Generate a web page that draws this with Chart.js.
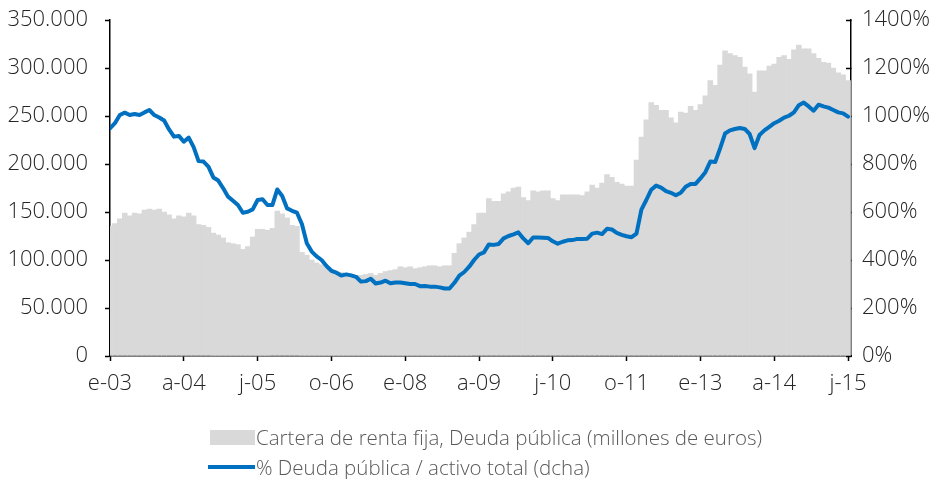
<!DOCTYPE html>
<html>
<head>
<meta charset="utf-8">
<script src="https://cdn.jsdelivr.net/npm/chart.js@4/dist/chart.umd.min.js"></script>
<style>
html,body{margin:0;padding:0;background:#fff;}
#wrap{position:relative;width:929px;height:479px;overflow:hidden;background:#fff;}
#c{position:absolute;left:0;top:0;}
.leg{position:absolute;left:256px;font-family:'Open Sans',sans-serif;font-weight:300;font-size:20.5px;line-height:24px;color:#595959;white-space:nowrap;}
.sw{position:absolute;}
</style>
</head>
<body>
<div id="wrap">
<canvas id="c" width="929" height="479"></canvas>
<div class="sw" id="sw1" style="left:210px;top:430px;width:45px;height:15px;background:#d9d9d9;"></div>
<div class="leg" id="leg1" style="top:425px;">Cartera de renta fija, Deuda pública (millones de euros)</div>
<div class="sw" id="sw2" style="left:208px;top:465px;width:47px;height:4px;background:#0070c0;"></div>
<div class="leg" id="leg2" style="top:455px;">% Deuda pública / activo total (dcha)</div>
</div>
<script>
// Month index 0 = enero 2003 ... 150 = julio 2015
const tickMonths = [0, 15, 30, 45, 60, 75, 90, 105, 120, 135, 150];
const tickLabels = ['e-03', 'a-04', 'j-05', 'o-06', 'e-08', 'a-09', 'j-10', 'o-11', 'e-13', 'a-14', 'j-15'];

// Cartera de renta fija, Deuda pública (millones de euros)
const carteraDeuda = [
  135000,138000,143000,149000,146000,149000,148000,152000,153000,152000,
  153000,150000,147000,143000,146000,145000,149000,146000,137000,136000,
  134000,128000,126000,123000,118000,117000,116000,111000,114000,124000,
  132000,132000,131000,133000,151000,148000,144000,136000,135000,108000,
  105000,100000,97000,95000,92000,90000,88000,87000,86000,85000,
  84000,84000,85000,86000,84000,86000,88000,89000,90000,93000,
  92000,93000,91000,92000,93000,94000,94000,93000,94000,94000,
  107000,117000,123000,129000,137000,149000,149000,164000,161000,161000,
  169000,171000,175000,176000,165000,162000,172000,171000,172000,172000,
  164000,162000,168000,168000,168000,168000,167000,171000,178000,175000,
  180000,189000,186000,181000,179000,177000,177000,204000,228000,246000,
  264000,261000,256000,256000,248000,243000,254000,253000,260000,256000,
  262000,271000,287000,282000,303000,318000,315000,313000,311000,301000,
  294000,275000,297000,297000,302000,304000,311000,313000,309000,319000,
  324000,320000,320000,315000,310000,306000,305000,300000,295000,293000,
  287000
];

// % Deuda pública / activo total (dcha)
const pctDeudaActivo = [
  949,970,1004,1014,1004,1008,1004,1015,1025,1004,
  994,981,944,914,917,893,910,870,812,810,
  789,744,731,699,664,647,629,597,601,611,
  650,653,629,629,694,667,615,605,597,550,
  470,435,415,400,375,355,347,335,340,336,
  330,310,312,322,302,306,314,303,306,306,
  303,300,300,291,292,289,289,286,281,281,
  305,335,350,372,400,423,432,465,463,467,
  490,500,507,515,490,470,494,494,493,492,
  478,468,476,482,483,488,488,489,510,514,
  508,530,527,513,505,499,495,510,610,650,
  693,710,702,687,680,670,680,705,717,717,
  740,766,810,808,865,927,940,946,950,946,
  925,866,921,940,955,970,980,993,1001,1015,
  1045,1056,1040,1022,1047,1040,1035,1025,1015,1011,
  997
];

const leftTicks = [0, 50000, 100000, 150000, 200000, 250000, 300000, 350000];
const rightTicks = [0, 200, 400, 600, 800, 1000, 1200, 1400];

function fmtMiles(v) {
  return String(v).replace(/\B(?=(\d{3})+(?!\d))/g, '.');
}

const tickFont = { family: "'Open Sans', sans-serif", size: 22, weight: '300' };
const tickColor = '#262626';

function fitVertical(width) {
  return s => { s.width = width; s.paddingTop = 0; s.paddingBottom = 0; };
}

new Chart(document.getElementById('c'), {
  type: 'bar',
  data: {
    datasets: [
      {
        type: 'line',
        label: '% Deuda pública / activo total (dcha)',
        data: pctDeudaActivo.map((v, i) => ({ x: i, y: v })),
        yAxisID: 'y2',
        borderColor: '#0070c0',
        backgroundColor: '#0070c0',
        borderWidth: 4,
        pointRadius: 0,
        tension: 0,
        borderJoinStyle: 'round',
        borderCapStyle: 'round',
        order: 1
      },
      {
        type: 'bar',
        label: 'Cartera de renta fija, Deuda pública (millones de euros)',
        data: carteraDeuda.map((v, i) => ({ x: i, y: v })),
        yAxisID: 'y',
        backgroundColor: '#d9d9d9',
        borderWidth: 0,
        barPercentage: 1,
        categoryPercentage: 1,
        order: 2
      }
    ]
  },
  options: {
    responsive: false,
    devicePixelRatio: 1,
    animation: false,
    layout: { padding: { top: 20, left: 0, right: 0, bottom: 83 } },
    plugins: { legend: { display: false }, tooltip: { enabled: false } },
    scales: {
      x: {
        type: 'linear',
        min: 0,
        max: 150.6,
        offset: false,
        afterFit: s => { s.height = 40; },
        afterBuildTicks: s => { s.ticks = tickMonths.map(v => ({ value: v })); },
        grid: { offset: false, drawOnChartArea: false, drawTicks: true, tickLength: 5, tickColor: '#000', tickWidth: 1.5 },
        border: { display: true, color: '#000', width: 1.5 },
        ticks: {
          autoSkip: false,
          maxRotation: 0,
          padding: 10,
          color: tickColor,
          font: tickFont,
          callback: v => { const k = tickMonths.indexOf(v); return k >= 0 ? tickLabels[k] : ''; }
        }
      },
      y: {
        position: 'left',
        min: 0,
        max: 350000,
        afterFit: fitVertical(110),
        afterBuildTicks: s => { s.ticks = leftTicks.map(v => ({ value: v })); },
        grid: { drawOnChartArea: false, drawTicks: true, tickLength: 5, tickColor: '#000', tickWidth: 1.5 },
        border: { display: true, color: '#000', width: 1.5 },
        ticks: { padding: 17, color: tickColor, font: tickFont, callback: v => fmtMiles(v) }
      },
      y2: {
        position: 'right',
        min: 0,
        max: 1400,
        afterFit: fitVertical(78),
        afterBuildTicks: s => { s.ticks = rightTicks.map(v => ({ value: v })); },
        grid: { drawOnChartArea: false, drawTicks: true, tickLength: -5, tickColor: '#000', tickWidth: 1.5 },
        border: { display: true, color: '#000', width: 1.5 },
        ticks: { padding: 16, color: tickColor, font: tickFont, callback: v => v + '%' }
      }
    }
  }
});
</script>
</body>
</html>
